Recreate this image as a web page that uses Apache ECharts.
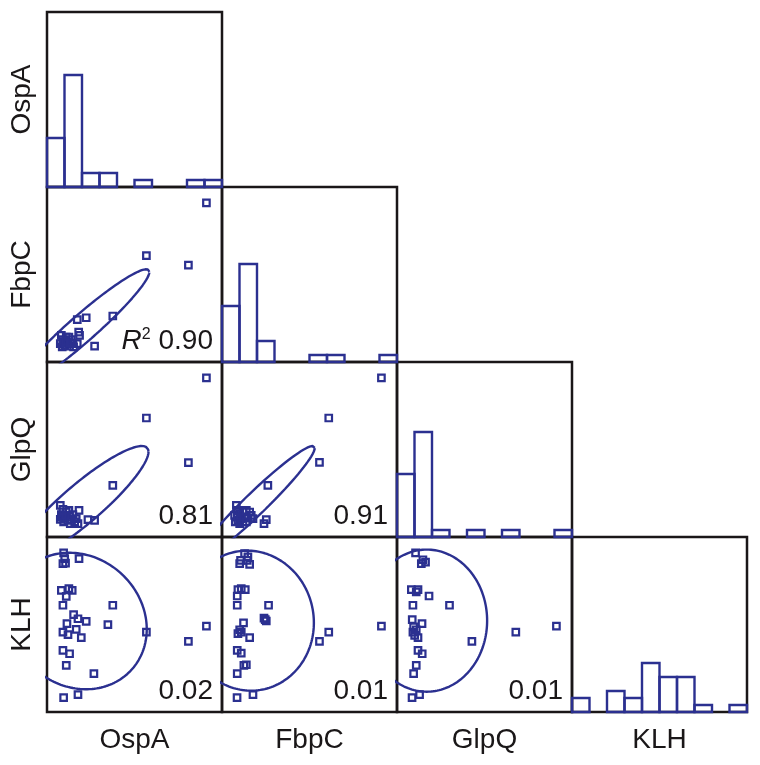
<!DOCTYPE html>
<html>
<head>
<meta charset="utf-8">
<script src="https://cdn.jsdelivr.net/npm/echarts@6/dist/echarts.min.js"></script>
<style>html,body{margin:0;padding:0;background:#fff}#c{width:760px;height:765px}</style>
</head>
<body>
<div id="c"></div>
<script>
// ---------- data (values on a 0-10 scale for each variable) ----------
const variables = ['OspA', 'FbpC', 'GlpQ', 'KLH'];

// histogram counts (10 equal bins across each panel)
const histOspA = [7, 16, 2, 2, 0, 1, 0, 0, 1, 1];
const histFbpC = [8, 14, 3, 0, 0, 1, 1, 0, 0, 1];
const histGlpQ = [9, 15, 1, 0, 1, 0, 1, 0, 0, 1];
const histKLH  = [2, 0, 3, 2, 7, 5, 5, 1, 0, 1];

// scatter points [x, y]
const ospaVsFbpc = [[9.11,9.09],[5.68,6.08],[8.08,5.54],[3.76,2.63],[1.73,2.42],[2.24,2.53],[2.72,0.91],[1.81,1.71],[1.73,1.05],[1.86,1.52],
  [0.82,1.52],[0.91,1.28],[0.76,1.05],[1.01,0.95],[1.10,1.43],[1.20,1.14],[1.29,0.90],[1.39,1.28],[1.48,1.05],[0.95,1.09],[1.25,1.43],[1.52,0.86],[0.87,0.86],[1.06,1.20],[1.33,1.09]];
const ospaVsGlpq = [[9.11,9.09],[5.68,6.80],[8.08,4.25],[3.76,2.95],[1.83,1.52],[2.34,0.99],[2.72,0.95],
  [0.76,1.81],[0.91,1.58],[0.82,1.28],[1.01,1.09],[1.10,1.43],[1.29,1.24],[1.20,0.95],[0.95,0.86],[1.39,1.01],[1.48,1.28],[1.67,1.05],[1.58,0.86],[0.76,1.01],[1.06,1.24],[1.33,0.76],[1.77,0.76],[1.25,1.52],[0.87,1.14]];
const fbpcVsGlpq = [[9.11,9.09],[6.10,6.80],[5.57,4.27],[2.62,2.95],[2.53,0.99],[2.40,0.76],
  [0.82,1.81],[0.91,1.52],[0.72,1.24],[1.01,1.33],[1.20,1.43],[1.39,1.52],[1.58,1.43],[1.10,1.05],[0.91,0.95],[1.29,1.14],[1.48,1.09],[1.67,1.24],[0.76,0.86],[1.20,0.86],[1.77,1.05],[1.01,0.76],[1.39,0.86],[0.87,1.14]];
const ospaVsKlh = [[0.95,9.09],[1.01,8.76],[0.91,8.48],[1.06,8.51],[1.83,8.76],[0.82,6.95],[1.25,7.05],[1.44,6.95],[1.10,6.61],[0.91,6.10],[3.76,6.10],
  [1.52,5.56],[1.77,5.33],[2.24,5.18],[1.14,5.05],[3.48,4.99],[0.91,4.57],[1.20,4.42],[1.67,4.72],[1.96,4.25],[5.68,4.57],[8.08,4.04],[9.11,4.91],
  [0.91,3.52],[1.29,3.33],[1.10,2.67],[2.68,2.19],[0.95,0.82],[1.77,0.99]];
const fbpcVsKlh = [[1.29,9.05],[1.06,8.67],[1.01,8.48],[1.44,8.67],[1.58,8.44],[1.48,8.86],[0.91,6.99],[1.10,7.05],[1.33,6.99],[0.87,6.63],[0.87,6.10],[2.66,6.10],
  [2.40,5.37],[2.53,5.20],[2.47,5.28],[1.23,5.09],[1.01,4.70],[0.91,4.48],[1.10,4.57],[1.58,4.25],[6.10,4.57],[5.57,4.04],[9.11,4.91],
  [0.87,3.52],[1.10,3.37],[1.25,2.67],[1.39,2.70],[0.87,2.19],[0.86,0.82],[1.77,0.99]];
const glpqVsKlh = [[1.06,9.09],[1.48,8.70],[1.39,8.48],[1.63,8.57],[0.82,6.99],[1.20,6.99],[1.10,6.86],[1.83,6.63],[0.91,6.10],[3.00,6.10],
  [0.87,5.28],[1.43,5.05],[0.95,4.86],[0.91,4.57],[1.01,4.38],[1.20,4.25],[1.10,4.70],[4.28,4.04],[6.79,4.57],[9.11,4.91],
  [1.20,3.52],[1.44,3.33],[1.10,2.67],[0.95,2.19],[0.86,0.82],[1.29,0.99]];

// confidence ellipses: [centerX, centerY, radiusX, radiusY, correlation]
const ellipseOspaFbpc = [2.0, 1.9, 3.85, 3.4, 0.955];
const ellipseOspaGlpq = [2.0, 1.9, 3.8, 3.3, 0.90];
const ellipseFbpcGlpq = [1.9, 1.9, 3.4, 3.3, 0.965];
const ellipseOspaKlh  = [1.75, 5.2, 3.95, 3.9, -0.12];
const ellipseFbpcKlh  = [1.55, 5.22, 3.7, 4.0, -0.03];
const ellipseGlpqKlh  = [1.7, 5.22, 3.45, 4.06, 0.0];

// R^2 labels
const r2OspaFbpc = '0.90', r2OspaGlpq = '0.81', r2FbpcGlpq = '0.91';
const r2OspaKlh = '0.02', r2FbpcKlh = '0.01', r2GlpqKlh = '0.01';

// ---------- layout ----------
const BLUE = '#2b3090';
const INK = '#1a1718';
const FONT = '"Liberation Sans", Arial, Helvetica, sans-serif';
const L = 47, T = 12, S = 175;

const panels = [
  {r:0,c:0,hist:histOspA},
  {r:1,c:1,hist:histFbpC},
  {r:2,c:2,hist:histGlpQ},
  {r:3,c:3,hist:histKLH},
  {r:1,c:0,pts:ospaVsFbpc,ell:ellipseOspaFbpc,lab:r2OspaFbpc,r2:true},
  {r:2,c:0,pts:ospaVsGlpq,ell:ellipseOspaGlpq,lab:r2OspaGlpq},
  {r:2,c:1,pts:fbpcVsGlpq,ell:ellipseFbpcGlpq,lab:r2FbpcGlpq},
  {r:3,c:0,pts:ospaVsKlh,ell:ellipseOspaKlh,lab:r2OspaKlh},
  {r:3,c:1,pts:fbpcVsKlh,ell:ellipseFbpcKlh,lab:r2FbpcKlh},
  {r:3,c:2,pts:glpqVsKlh,ell:ellipseGlpqKlh,lab:r2GlpqKlh}
];

function ellipsePath(e){
  const [cx, cy, rx, ry, rho] = e;
  const out = [];
  const q = Math.sqrt(1 - rho*rho);
  for (let a = 0; a <= 360; a += 2){
    const t = a*Math.PI/180;
    out.push([cx + rx*Math.cos(t), cy + ry*(rho*Math.cos(t) + q*Math.sin(t))]);
  }
  return out;
}

const grid = [], xAxis = [], yAxis = [], series = [], graphic = [];
panels.forEach((p, i) => {
  grid.push({left:L+p.c*S, top:T+p.r*S, width:S, height:S, show:true,
    borderColor:INK, borderWidth:2.5, backgroundColor:'rgba(0,0,0,0)', containLabel:false});
  xAxis.push({gridIndex:i, type:'value', min:0, max:10, show:false});
  yAxis.push({gridIndex:i, type:'value', min:0, max:p.hist?25:10, show:false});
  if (p.hist){
    series.push({
      type:'custom', xAxisIndex:i, yAxisIndex:i, silent:true,
      data:p.hist.map((v,k)=>[k, k+1, v]),
      renderItem:(params, api)=>{
        const v = api.value(2);
        if (!v) return null;
        const p0 = api.coord([api.value(0), 0]);
        const p1 = api.coord([api.value(1), v]);
        return {type:'rect', shape:{x:p0[0], y:p1[1], width:p1[0]-p0[0], height:p0[1]-p1[1]},
          style:{fill:'none', stroke:BLUE, lineWidth:2.4}};
      }
    });
  } else {
    series.push({type:'line', xAxisIndex:i, yAxisIndex:i, data:ellipsePath(p.ell), showSymbol:false,
      symbol:'none', clip:true, silent:true, lineStyle:{color:BLUE, width:2.4}});
    series.push({type:'scatter', xAxisIndex:i, yAxisIndex:i, data:p.pts, symbol:'rect', symbolSize:6.5,
      silent:true, itemStyle:{color:'rgba(255,255,255,0)', borderColor:BLUE, borderWidth:2.2, opacity:1}});
    const right = L + (p.c+1)*S - 9, bottom = T + (p.r+1)*S - 21;
    if (p.r2){
      graphic.push({type:'text', x:right, y:bottom, z:100, style:{
        text:'{i|R}{s|2}{n| ' + p.lab + '}', align:'right', verticalAlign:'middle', fill:INK,
        rich:{ i:{fontFamily:FONT, fontSize:28, fontStyle:'italic', fill:INK},
               s:{fontFamily:FONT, fontSize:16, fill:INK, verticalAlign:'top', padding:[0,0,10,0]},
               n:{fontFamily:FONT, fontSize:28, fill:INK} }}});
    } else {
      graphic.push({type:'text', x:right, y:bottom, z:100, style:{text:p.lab, align:'right', verticalAlign:'middle',
        fill:INK, fontFamily:FONT, fontSize:28}});
    }
  }
});

variables.forEach((v, k) => {
  graphic.push({type:'text', x:L + k*S + S/2, y:740, style:{text:v, align:'center', verticalAlign:'middle',
    fill:INK, fontFamily:FONT, fontSize:28}});
  graphic.push({type:'text', x:22, y:T + k*S + S/2, rotation:Math.PI/2, style:{text:v, align:'center',
    verticalAlign:'middle', fill:INK, fontFamily:FONT, fontSize:28}});
});

const chart = echarts.init(document.getElementById('c'), null, {renderer:'canvas'});
chart.setOption({animation:false, grid, xAxis, yAxis, series, graphic});
</script>
</body>
</html>
